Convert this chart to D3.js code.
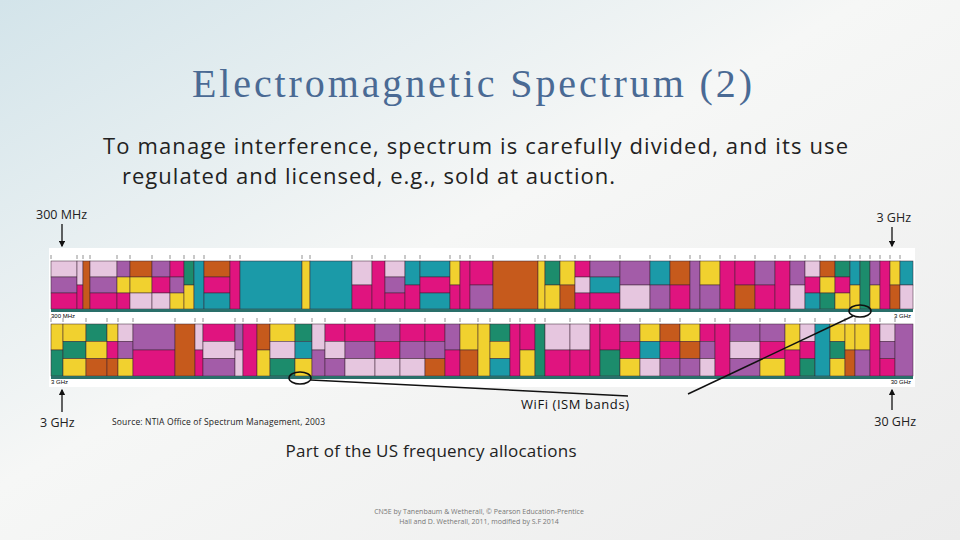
<!DOCTYPE html>
<html><head><meta charset="utf-8">
<script src="https://cdn.jsdelivr.net/npm/d3@7"></script>
<style>body{margin:0}svg{display:block}</style>
</head><body>
<script>
// band columns: [start, end, stacked colour codes top->bottom]
const topRow = [
  [51,77,"LPM"],[77,83,"LM"],[83,90,"O"],[90,117,"LPM"],[117,130,"PYM"],[130,152,"OYL"],
  [152,170,"PML"],[170,184,"MPY"],[184,194,"GY"],[194,204,"T"],[204,230,"OMT"],[230,240,"M"],
  [240,302,"T"],[302,310,"Y"],[310,352,"T"],[352,372,"LM"],[372,385,"M"],[385,405,"LPM"],
  [405,420,"TM"],[420,450,"TMT"],[450,460,"YM"],[460,470,"M"],[470,493,"MP"],[493,538,"O"],
  [538,545,"Y"],[545,560,"GY"],[560,575,"YO"],[575,590,"MLM"],[590,620,"PTM"],[620,650,"PL"],
  [650,670,"TP"],[670,690,"OM"],[690,700,"P"],[700,720,"YP"],[720,735,"M"],[735,755,"MO"],
  [755,775,"PM"],[775,790,"M"],[790,805,"PL"],[805,820,"LMT"],[820,835,"OYG"],[835,850,"GMY"],
  [850,860,"TY"],[860,870,"G"],[870,880,"PY"],[880,890,"M"],[890,900,"YO"],[900,913,"TL"]
];
const bottomRow = [
  [51,63,"YG"],[63,86,"YGY"],[86,107,"GYO"],[107,118,"YMO"],[118,133,"LPY"],[133,175,"PM"],
  [175,195,"O"],[195,203,"LM"],[203,235,"MLP"],[235,243,"PL"],[243,257,"M"],[257,270,"OY"],
  [270,295,"YLG"],[295,312,"GTY"],[312,325,"LP"],[325,345,"MLP"],[345,375,"MPL"],[375,400,"PML"],
  [400,425,"MPL"],[425,445,"MPO"],[445,460,"PM"],[460,478,"YO"],[478,490,"Y"],[490,510,"GYT"],
  [510,520,"M"],[520,535,"MY"],[535,545,"G"],[545,570,"LM"],[570,590,"LM"],[590,600,"M"],
  [600,620,"MG"],[620,640,"PMY"],[640,660,"YTL"],[660,680,"OMP"],[680,700,"YOP"],[700,715,"MPL"],
  [715,730,"M"],[730,760,"PLP"],[760,785,"PMY"],[785,800,"YM"],[800,815,"LMG"],[815,830,"T"],
  [830,845,"YGY"],[845,855,"YO"],[855,870,"YP"],[870,880,"M"],[880,895,"LPM"],[895,913,"P"]
];
const colours = {M:"#e0147f",P:"#a35ca8",L:"#e6c6df",T:"#1b9aa8",G:"#1c8c6c",O:"#c65a1c",Y:"#f1d12f"};
const rowLabels = [["300 MHz","3 GHz"],["3 GHz","30 GHz"]];

const svg = d3.select("body").append("svg").attr("width",960).attr("height",540);
const defs = svg.append("defs");
const g1 = defs.append("linearGradient").attr("id","bg").attr("x1",0).attr("y1",0).attr("x2",1).attr("y2",1);
g1.append("stop").attr("offset","0").attr("stop-color","#d3e4ea");
g1.append("stop").attr("offset","0.45").attr("stop-color","#f6f7f6");
g1.append("stop").attr("offset","1").attr("stop-color","#ececec");
svg.append("rect").attr("width",960).attr("height",540).attr("fill","url(#bg)");

svg.append("text").attr("x",472).attr("y",97).attr("text-anchor","middle")
  .attr("font-family","Liberation Serif").attr("font-size",40).attr("fill","#4a6a94")
  .attr("textLength",560).text("Electromagnetic Spectrum (2)");
svg.append("text").attr("x",103).attr("y",154).attr("font-family","Open Sans").attr("font-size",22)
  .attr("fill","#222").attr("textLength",745).text("To manage interference, spectrum is carefully divided, and its use");
svg.append("text").attr("x",122).attr("y",184).attr("font-family","Open Sans").attr("font-size",22)
  .attr("fill","#222").attr("textLength",493).text("regulated and licensed, e.g., sold at auction.");

const x = d3.scaleLinear().domain([51,913]).range([51,913]);
svg.append("rect").attr("x",49).attr("y",248).attr("width",866).attr("height",139).attr("fill","#fff");

function drawRow(data, y0, y1){
  const g = svg.append("g");
  data.forEach(([a,b,codes]) => {
    const y = d3.scaleBand().domain(d3.range(codes.length)).range([y0,y1]);
    codes.split("").forEach((c,i) => {
      g.append("rect").attr("x",x(a)).attr("y",y(i)).attr("width",x(b)-x(a)).attr("height",y.bandwidth())
        .attr("fill",colours[c]).attr("stroke","#3a2030").attr("stroke-width",0.5);
    });
    g.append("line").attr("x1",x(a)).attr("x2",x(a)).attr("y1",y0-6).attr("y2",y0-2)
      .attr("stroke","#777").attr("stroke-width",0.8);
  });
  g.append("rect").attr("x",x(51)).attr("y",y1).attr("width",x(913)-x(51)).attr("height",3).attr("fill","#2a6f6a");
}
drawRow(topRow,261,309);
drawRow(bottomRow,324,376);
svg.append("text").attr("x",51).attr("y",318).attr("font-size",6).attr("font-family","Liberation Sans").text("300 MHz");
svg.append("text").attr("x",911).attr("y",318).attr("font-size",6).attr("text-anchor","end").attr("font-family","Liberation Sans").text("3 GHz");
svg.append("text").attr("x",51).attr("y",384).attr("font-size",6).attr("font-family","Liberation Sans").text("3 GHz");
svg.append("text").attr("x",911).attr("y",384).attr("font-size",6).attr("text-anchor","end").attr("font-family","Liberation Sans").text("30 GHz");

defs.append("marker").attr("id","ah").attr("viewBox","0 0 10 10").attr("refX",8).attr("refY",5)
  .attr("markerWidth",5).attr("markerHeight",5).attr("orient","auto")
  .append("path").attr("d","M0,0L10,5L0,10z").attr("fill","#111");
const lab = (t,xx,yy,anchor) => svg.append("text").attr("x",xx).attr("y",yy).attr("text-anchor",anchor||"start")
  .attr("font-family","Open Sans").attr("font-size",12.5).attr("fill","#222").text(t);
lab(rowLabels[0][0],36,219); lab(rowLabels[0][1],911,222,"end");
lab(rowLabels[1][0],40,427); lab(rowLabels[1][1],916,426,"end");
const arrow = (x1,y1,x2,y2) => svg.append("line").attr("x1",x1).attr("y1",y1).attr("x2",x2).attr("y2",y2)
  .attr("stroke","#111").attr("stroke-width",1.3).attr("marker-end","url(#ah)");
arrow(62,224,62,246); arrow(892,227,892,246); arrow(62,412,62,390); arrow(892,410,892,390);

svg.append("ellipse").attr("cx",300).attr("cy",378).attr("rx",11).attr("ry",6).attr("fill","none").attr("stroke","#111").attr("stroke-width",1.5);
svg.append("ellipse").attr("cx",860).attr("cy",311).attr("rx",11).attr("ry",6).attr("fill","none").attr("stroke","#111").attr("stroke-width",1.5);
svg.append("line").attr("x1",311).attr("y1",380).attr("x2",628).attr("y2",396).attr("stroke","#111").attr("stroke-width",1.5);
svg.append("line").attr("x1",853).attr("y1",316).attr("x2",688).attr("y2",394).attr("stroke","#111").attr("stroke-width",1.5);

svg.append("text").attr("x",575).attr("y",409).attr("text-anchor","middle").attr("font-family","Open Sans").attr("font-size",13).attr("fill","#111").attr("textLength",108).text("WiFi (ISM bands)");
svg.append("text").attr("x",112).attr("y",425).attr("font-family","Open Sans").attr("font-size",8.5).attr("fill","#222").attr("textLength",213).text("Source: NTIA Office of Spectrum Management, 2003");
svg.append("text").attr("x",431).attr("y",457).attr("text-anchor","middle").attr("font-family","Open Sans").attr("font-size",17).attr("fill","#222").attr("textLength",291).text("Part of the US frequency allocations");
svg.append("text").attr("x",479).attr("y",514).attr("text-anchor","middle").attr("font-family","Open Sans").attr("font-size",7).attr("fill","#777").text("CN5E by Tanenbaum & Wetherall, © Pearson Education-Prentice");
svg.append("text").attr("x",479).attr("y",524).attr("text-anchor","middle").attr("font-family","Open Sans").attr("font-size",7).attr("fill","#777").text("Hall and D. Wetherall, 2011, modified by S.F 2014");
</script>
</body></html>
